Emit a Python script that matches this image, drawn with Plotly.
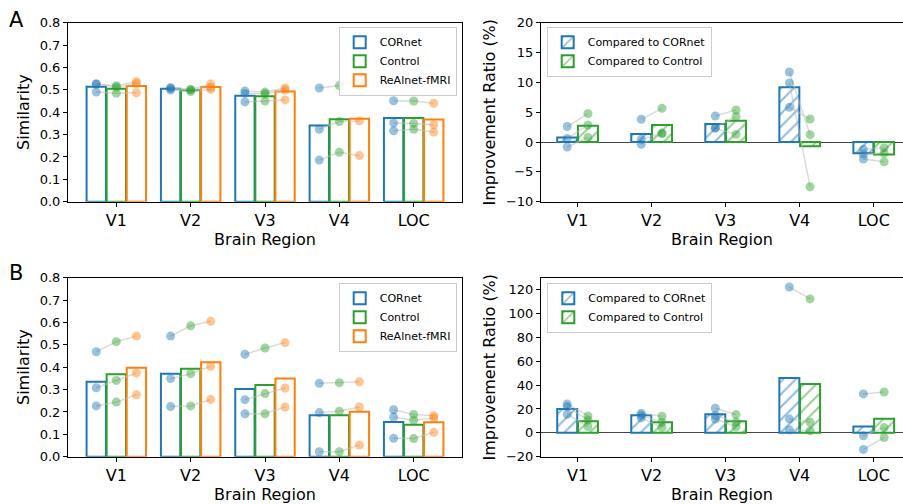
import plotly.graph_objects as go

regions = ["V1", "V2", "V3", "V4", "LOC"]
models = ["CORnet", "Control", "ReAlnet-fMRI"]
comparisons = ["Compared to CORnet", "Compared to Control"]

# Panel A (left): similarity, per region, 3 subjects
simA_cornet = [[0.526, 0.526, 0.490], [0.510, 0.506, 0.499], [0.495, 0.484, 0.446], [0.508, 0.324, 0.186], [0.451, 0.352, 0.317]]
simA_control = [[0.518, 0.512, 0.485], [0.502, 0.500, 0.492], [0.490, 0.483, 0.450], [0.519, 0.358, 0.221], [0.450, 0.350, 0.324]]
simA_realnet = [[0.536, 0.528, 0.487], [0.526, 0.511, 0.502], [0.508, 0.499, 0.455], [0.539, 0.361, 0.206], [0.440, 0.344, 0.311]]
barA_cornet = [0.514, 0.505, 0.474, 0.340, 0.374]
barA_control = [0.505, 0.498, 0.471, 0.368, 0.374]
barA_realnet = [0.517, 0.513, 0.492, 0.371, 0.367]

# Panel A (right): improvement ratio (%)
impA_cornet = [[2.6, 0.6, -0.84], [3.8, 0.45, -0.39], [4.36, 2.41, 2.29], [11.73, 9.89, 5.81], [-1.23, -2.0, -2.85]]
impA_control = [[4.75, 2.85, 0.78], [5.65, 1.5, 1.4], [5.36, 4.25, 1.28], [1.23, -7.49, 3.85], [-0.95, -1.9, -3.3]]
barImpA_cornet = [0.78, 1.34, 3.02, 9.17, -1.9]
barImpA_control = [2.73, 2.85, 3.57, -0.7, -2.07]

# Panel B (left): similarity
simB_cornet = [[0.469, 0.308, 0.227], [0.539, 0.349, 0.224], [0.458, 0.255, 0.192], [0.328, 0.197, 0.022], [0.210, 0.177, 0.082]]
simB_control = [[0.514, 0.341, 0.244], [0.585, 0.371, 0.227], [0.486, 0.282, 0.192], [0.331, 0.203, 0.022], [0.189, 0.163, 0.081]]
simB_realnet = [[0.539, 0.374, 0.277], [0.605, 0.404, 0.256], [0.510, 0.307, 0.222], [0.335, 0.222, 0.052], [0.183, 0.173, 0.109]]
barB_cornet = [0.335, 0.371, 0.303, 0.185, 0.155]
barB_control = [0.368, 0.393, 0.320, 0.185, 0.143]
barB_realnet = [0.398, 0.422, 0.349, 0.201, 0.154]

# Panel B (right): improvement ratio (%)
impB_cornet = [[24.2, 22.0, 15.6], [16.4, 14.8, 12.5], [20.6, 14.6, 11.6], [122.2, 11.7, 2.5], [32.6, -2.5, -13.9]]
impB_control = [[14.2, 10.6, 5.3], [13.9, 8.9, 4.4], [15.3, 9.0, 5.1], [112.2, 8.9, 1.7], [34.2, 4.4, -3.9]]
barImpB_cornet = [20.0, 14.8, 15.6, 45.9, 5.3]
barImpB_control = [9.8, 8.9, 9.8, 40.9, 11.7]

BLUE, GREEN, ORANGE = "#1f77b4", "#2ca02c", "#ff7f0e"
FONT = "DejaVu Sans"
W, H = 903, 504

fig = go.Figure()
xs = list(range(len(regions)))

def px_dom_x(a, b):
    return [a / W, min(b / W, 1.0)]

def px_dom_y(top, bottom):
    return [1 - bottom / H, 1 - top / H]

def add_left(xa, ya, legend, bars, pts):
    offs = [-0.27, 0.0, 0.27]
    colors = [BLUE, GREEN, ORANGE]
    bw = 0.26
    for m, (name, b, c, o) in enumerate(zip(models, bars, colors, offs)):
        fig.add_trace(go.Bar(x=xs, y=b, width=bw, offset=o - bw / 2, name=name,
                             marker=dict(color="rgba(255,255,255,0)", line=dict(color=c, width=2)),
                             xaxis=xa, yaxis=ya, legend=legend, showlegend=True))
    nsub = len(pts[0][0])
    for r in range(len(regions)):
        for s in range(nsub):
            fig.add_trace(go.Scatter(x=[r + o for o in offs], y=[pts[m][r][s] for m in range(3)],
                                     mode="lines", line=dict(color="rgba(190,190,190,0.55)", width=1.5),
                                     xaxis=xa, yaxis=ya, showlegend=False, hoverinfo="skip"))
    for m in range(3):
        px_, py_ = [], []
        for r in range(len(regions)):
            for s in range(nsub):
                px_.append(r + offs[m]); py_.append(pts[m][r][s])
        fig.add_trace(go.Scatter(x=px_, y=py_, mode="markers",
                                 marker=dict(color=colors[m], size=9, opacity=0.45),
                                 xaxis=xa, yaxis=ya, showlegend=False))

def add_right(xa, ya, legend, bars, pts):
    offs = [-0.14, 0.14]
    colors = [BLUE, GREEN]
    bw = 0.27
    for m, (name, b, c, o) in enumerate(zip(comparisons, bars, colors, offs)):
        fig.add_trace(go.Bar(x=xs, y=b, width=bw, offset=o - bw / 2, name=name,
                             marker=dict(color="white", line=dict(color=c, width=2),
                                         pattern=dict(shape="/", fgcolor=c, bgcolor="white", size=9, solidity=0.22)),
                             xaxis=xa, yaxis=ya, legend=legend, showlegend=True))
    nsub = len(pts[0][0])
    for r in range(len(regions)):
        for s in range(nsub):
            fig.add_trace(go.Scatter(x=[r + o for o in offs], y=[pts[m][r][s] for m in range(2)],
                                     mode="lines", line=dict(color="rgba(190,190,190,0.55)", width=1.5),
                                     xaxis=xa, yaxis=ya, showlegend=False, hoverinfo="skip"))
    for m in range(2):
        px_, py_ = [], []
        for r in range(len(regions)):
            for s in range(nsub):
                px_.append(r + offs[m]); py_.append(pts[m][r][s])
        fig.add_trace(go.Scatter(x=px_, y=py_, mode="markers",
                                 marker=dict(color=colors[m], size=9, opacity=0.45),
                                 xaxis=xa, yaxis=ya, showlegend=False))

add_left("x", "y", "legend", [barA_cornet, barA_control, barA_realnet], [simA_cornet, simA_control, simA_realnet])
add_right("x2", "y2", "legend2", [barImpA_cornet, barImpA_control], [impA_cornet, impA_control])
add_left("x3", "y3", "legend3", [barB_cornet, barB_control, barB_realnet], [simB_cornet, simB_control, simB_realnet])
add_right("x4", "y4", "legend4", [barImpB_cornet, barImpB_control], [impB_cornet, impB_control])

xcommon = dict(tickmode="array", tickvals=xs, ticktext=regions, showgrid=False, zeroline=False,
               showline=True, linecolor="black", linewidth=1, mirror=True, ticks="outside",
               ticklen=4, tickcolor="black", tickfont=dict(size=16, color="black"), automargin=False,
               title=dict(text="Brain Region", font=dict(size=16, color="black"), standoff=4))
ycommon = dict(showgrid=False, showline=True, linecolor="black", linewidth=1, ticks="outside",
               ticklen=4, tickcolor="black", tickfont=dict(size=13, color="black"), automargin=False)

left_x = px_dom_x(68, 462)
right_x = [541 / W, 1.0]
top_y = px_dom_y(22.7, 201.7)
bot_y = px_dom_y(277.7, 456.7)

fig.update_layout(
    xaxis=dict(xcommon, domain=left_x, range=[-0.65, 4.65], anchor="y"),
    yaxis=dict(ycommon, domain=top_y, range=[0, 0.8], dtick=0.1, tickformat=".1f", mirror=True, zeroline=False,
               anchor="x", title=dict(text="Similarity", font=dict(size=16, color="black"), standoff=6)),
    xaxis2=dict(xcommon, domain=right_x, range=[-0.494, 4.395], anchor="y2"),
    yaxis2=dict(ycommon, domain=top_y, range=[-10, 20], dtick=5, mirror=False, zeroline=True,
                zerolinecolor="#444", zerolinewidth=1, anchor="x2",
                title=dict(text="Improvement Ratio (%)", font=dict(size=16, color="black"), standoff=6)),
    xaxis3=dict(xcommon, domain=left_x, range=[-0.65, 4.65], anchor="y3"),
    yaxis3=dict(ycommon, domain=bot_y, range=[0, 0.8], dtick=0.1, tickformat=".1f", mirror=True, zeroline=False,
                anchor="x3", title=dict(text="Similarity", font=dict(size=16, color="black"), standoff=6)),
    xaxis4=dict(xcommon, domain=right_x, range=[-0.494, 4.395], anchor="y4"),
    yaxis4=dict(ycommon, domain=bot_y, range=[-20, 130], dtick=20, mirror=False, zeroline=True,
                zerolinecolor="#444", zerolinewidth=1, anchor="x4",
                title=dict(text="Improvement Ratio (%)", font=dict(size=16, color="black"), standoff=6)),
    barmode="overlay",
    width=W, height=H,
    margin=dict(l=0, r=0, t=0, b=0),
    paper_bgcolor="white", plot_bgcolor="white",
    font=dict(family=FONT, color="black"),
)

legstyle = dict(bgcolor="rgba(255,255,255,0.85)", bordercolor="#cccccc", borderwidth=1,
                font=dict(size=11, color="black", family=FONT), yanchor="top", tracegroupgap=0)
fig.update_layout(
    legend=dict(legstyle, x=456.7 / W, xanchor="right", y=1 - 26.7 / H),
    legend2=dict(legstyle, x=546.7 / W, xanchor="left", y=1 - 26.7 / H),
    legend3=dict(legstyle, x=456.7 / W, xanchor="right", y=1 - 282.7 / H),
    legend4=dict(legstyle, x=547.3 / W, xanchor="left", y=1 - 282.7 / H),
)

fig.add_annotation(text="A", x=7 / W, y=1 - 6 / H, xref="paper", yref="paper", xanchor="left", yanchor="top",
                   showarrow=False, font=dict(size=21, color="black", family=FONT))
fig.add_annotation(text="B", x=7 / W, y=1 - 259 / H, xref="paper", yref="paper", xanchor="left", yanchor="top",
                   showarrow=False, font=dict(size=21, color="black", family=FONT))

fig.write_html("out.html")
